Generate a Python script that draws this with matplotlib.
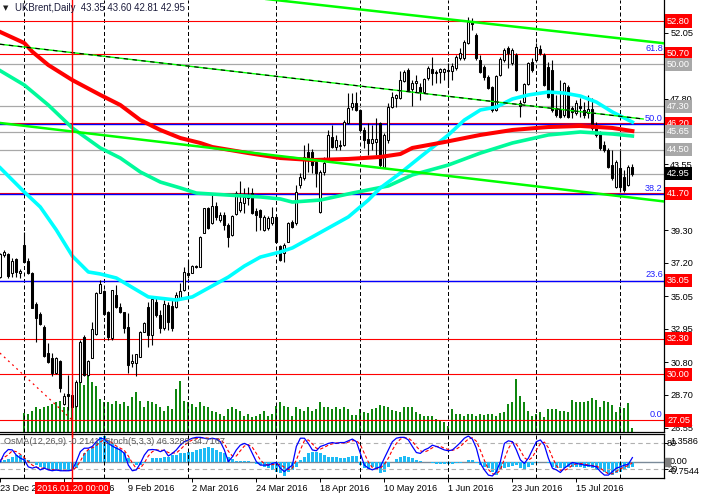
import matplotlib
matplotlib.use("Agg")
import matplotlib.pyplot as plt
from matplotlib.transforms import blended_transform_factory
import numpy as np

plt.rcParams['font.family'] = ['Liberation Sans', 'DejaVu Sans']

# daily bars, bar 0 = 23 Dec 2015, bar 18 = 20 Jan 2016, last bar = 158
opens = [36.30, 37.70, 37.75, 36.52, 37.43, 36.52, 38.35, 37.32, 36.56, 34.52,
         33.90, 33.04, 31.40, 31.08, 30.11, 30.86, 28.09, 28.74, 28.67, 27.96,
         29.53, 32.41, 29.96, 31.08, 32.61, 35.27, 35.38, 34.05, 32.33, 35.12,
         34.37, 34.01, 33.08, 30.74, 30.72, 31.14, 32.76, 34.37, 32.54, 34.69,
         33.83, 32.97, 34.48, 34.40, 34.37, 34.91, 35.45, 36.52, 36.56, 36.99,
         36.95, 39.14, 40.76, 39.75, 40.88, 39.96, 40.28, 39.64, 38.99, 40.35,
         40.61, 41.06, 41.38, 41.70, 40.54, 40.61, 39.32, 39.45, 39.77, 40.16,
         38.28, 37.83, 38.56, 39.83, 39.77, 42.22, 42.65, 44.37, 44.35, 43.72,
         40.50, 43.06, 43.83, 45.32, 44.69, 44.80, 44.80, 46.20, 47.27, 47.53,
         47.06, 45.77, 45.19, 44.93, 45.01, 46.20, 43.40, 45.12, 47.25, 47.83,
         47.83, 48.95, 49.64, 48.41, 48.78, 48.56, 48.24, 49.12, 49.70, 49.45,
         49.51, 49.53, 49.64, 49.58, 49.77, 50.41, 50.41, 51.36, 52.74, 51.90,
         50.28, 49.83, 49.19, 48.54, 47.06, 49.32, 50.28, 51.06, 50.09, 50.61,
         47.51, 47.59, 48.74, 50.15, 50.28, 50.99, 50.61, 49.83, 49.64, 47.19,
         47.12, 46.74, 48.56, 47.19, 46.86, 47.32, 47.06, 46.86, 47.12, 46.09,
         45.57, 44.80, 44.48, 43.51, 42.11, 43.32, 42.74, 42.22, 43.35]
highs = [37.83, 38.03, 37.83, 37.49, 37.53, 36.78, 39.17, 37.53, 36.63, 34.69,
         34.01, 33.19, 32.01, 31.36, 31.14, 30.93, 28.78, 29.96, 28.99, 29.64,
         32.22, 32.54, 30.93, 33.40, 35.34, 36.09, 35.43, 34.09, 35.45, 35.77,
         34.59, 34.05, 33.98, 31.32, 31.32, 32.80, 33.40, 34.69, 34.91, 35.01,
         34.16, 34.80, 34.69, 34.80, 35.34, 35.92, 36.95, 37.38, 37.06, 37.06,
         38.93, 40.76, 40.82, 41.57, 41.14, 40.50, 40.50, 39.75, 40.28, 41.83,
         42.48, 42.03, 42.09, 42.03, 40.74, 40.67, 40.28, 40.22, 40.80, 40.28,
         38.35, 38.50, 39.83, 39.96, 42.22, 42.97, 44.80, 44.91, 44.54, 43.83,
         43.19, 44.03, 45.77, 46.09, 45.45, 45.12, 46.41, 48.14, 48.16, 48.24,
         47.12, 45.98, 46.20, 46.09, 46.52, 46.30, 45.57, 47.51, 48.22, 48.09,
         49.57, 49.64, 49.77, 48.99, 49.32, 48.78, 49.12, 49.90, 50.50, 49.64,
         49.77, 49.77, 50.09, 50.09, 50.61, 51.06, 51.57, 53.06, 53.00, 52.03,
         50.61, 49.96, 49.32, 48.61, 49.32, 50.48, 51.06, 51.19, 51.06, 50.74,
         47.70, 48.80, 50.15, 50.41, 51.38, 51.25, 50.74, 50.15, 50.28, 48.03,
         48.99, 48.87, 48.67, 47.32, 47.70, 47.83, 47.57, 48.03, 47.83, 46.28,
         45.70, 45.06, 44.61, 44.48, 43.83, 44.48, 43.19, 43.51, 43.60]
lows = [36.22, 37.57, 36.22, 36.30, 36.30, 36.20, 37.25, 36.48, 34.26, 32.07,
        33.19, 31.14, 30.72, 29.92, 30.01, 28.88, 28.03, 27.70, 27.10, 27.92,
        29.53, 29.92, 29.92, 31.04, 32.54, 35.23, 33.83, 32.22, 32.22, 34.26,
        33.94, 32.69, 30.07, 30.50, 29.90, 31.14, 32.76, 31.79, 31.90, 33.72,
        32.65, 32.87, 32.87, 32.80, 34.26, 34.80, 35.40, 36.20, 36.52, 36.85,
        36.91, 39.10, 39.36, 39.70, 39.96, 39.85, 39.32, 38.24, 38.93, 40.28,
        40.48, 40.41, 40.93, 40.35, 39.25, 39.32, 39.25, 39.32, 39.64, 38.50,
        37.34, 37.27, 38.54, 39.45, 39.64, 42.01, 42.54, 43.08, 42.99, 42.11,
        40.43, 42.87, 43.70, 44.61, 44.48, 44.48, 44.74, 46.15, 47.06, 47.01,
        45.66, 44.59, 44.16, 44.48, 44.16, 43.40, 43.32, 44.93, 47.19, 47.25,
        47.77, 48.87, 48.28, 47.32, 48.22, 47.70, 48.16, 48.99, 48.67, 48.80,
        48.80, 48.99, 48.56, 48.99, 49.64, 50.28, 50.28, 51.32, 52.22, 50.28,
        49.45, 48.99, 48.41, 46.93, 47.00, 49.25, 50.15, 49.77, 49.96, 48.28,
        46.61, 47.51, 48.67, 49.51, 50.15, 50.61, 48.61, 47.83, 46.93, 46.61,
        46.54, 46.61, 46.54, 46.54, 46.74, 46.61, 46.54, 46.54, 45.77, 45.32,
        44.48, 44.35, 43.32, 42.54, 42.03, 41.77, 41.77, 42.16, 42.81]
closes = [37.75, 37.92, 36.35, 37.32, 36.63, 36.67, 37.27, 36.52, 34.30, 33.66,
          33.23, 31.21, 30.78, 30.11, 31.08, 29.14, 28.63, 28.61, 27.90, 29.53,
          32.11, 29.96, 30.86, 32.91, 35.27, 35.81, 33.90, 32.39, 35.43, 34.37,
          34.05, 33.01, 30.61, 30.86, 31.32, 32.76, 33.30, 32.54, 34.85, 33.83,
          32.97, 34.52, 33.35, 32.97, 35.12, 35.38, 36.63, 36.41, 36.99, 36.91,
          38.88, 40.72, 39.43, 40.88, 40.17, 40.28, 39.64, 38.88, 40.22, 41.70,
          41.12, 41.45, 41.57, 40.41, 40.28, 40.16, 40.16, 40.09, 40.16, 38.56,
          37.38, 38.35, 39.75, 39.51, 41.79, 42.76, 44.05, 43.83, 43.51, 42.97,
          43.08, 43.64, 45.45, 44.69, 45.12, 44.74, 46.30, 47.17, 47.49, 47.06,
          45.77, 45.12, 44.91, 45.19, 45.19, 43.51, 45.45, 47.25, 47.90, 48.03,
          48.99, 49.53, 48.35, 48.80, 48.95, 48.24, 49.04, 49.79, 49.43, 49.51,
          49.68, 49.68, 49.59, 49.90, 50.48, 50.74, 51.46, 52.76, 52.61, 50.41,
          49.53, 49.19, 48.48, 47.06, 49.25, 50.35, 50.93, 50.74, 50.93, 48.35,
          47.32, 48.74, 50.07, 49.64, 51.14, 50.74, 48.67, 47.90, 47.06, 46.74,
          46.63, 48.78, 46.63, 46.95, 47.51, 47.19, 46.74, 47.12, 45.90, 45.45,
          44.61, 44.48, 43.40, 42.67, 43.72, 42.11, 41.90, 43.38, 42.95]

# tick volume, thousands
volumes = [0, 0, 0, 0, 0, 0,
           19.5, 18.5, 21.5, 25, 23.5, 25, 26.5, 28.5, 30.5, 31.5,
           25, 25.5, 26.5, 35, 53.5, 47.5, 56.5, 50, 46.5, 33.5,
           30, 30, 28.5, 31.5, 28.5, 30, 26.5, 35, 40, 31.5,
           25, 31.5, 30, 28.5, 25, 21.5, 26.5, 23.5, 43.5, 51.5,
           31.5, 30, 28.5, 25, 30, 26.5, 25, 21.5, 20, 18.5,
           16.5, 23.5, 25, 23.5, 21.5, 16.5, 18.5, 15, 16.5, 18.5,
           21.5, 16.5, 18.5, 26.5, 30, 26.5, 25, 16.5, 25, 23.5,
           21.5, 25, 21.5, 23.5, 30, 25, 25, 23.5, 25, 23.5,
           25, 23.5, 17.5, 17.5, 23.5, 20, 19, 23.5, 24.5, 27.5,
           26.5, 25, 22.5, 21.5, 20, 25.5, 25.5, 25, 20, 18.5,
           16.5, 16.5, 16.5, 13.5, 11.5, 10, 6.5, 23.5, 18.5, 18.5,
           16.5, 18.5, 18.5, 16.5, 18.5, 17.5, 18.5, 18.5, 16.5, 19,
           20, 28.5, 30, 53.5, 36.5, 30, 21.5, 16.5, 18.5, 20,
           15, 23.5, 23.5, 23.5, 21.5, 21.5, 20, 32.5, 30, 30,
           30, 31, 34, 32.5, 25, 31.5, 30, 27, 20.5, 25,
           24.5, 29, 4]

osma = [0.05, 0.10, 0.14, 0.27, 0.35, 0.35, 0.19, 0.11, 0.01, -0.13,
        -0.21, -0.29, -0.37, -0.40, -0.40, -0.42, -0.42, -0.40, -0.37, -0.29,
        0.03, 0.43, 0.59, 0.75, 0.99, 1.23, 1.27, 1.07, 0.91, 0.75,
        0.59, 0.51, 0.19, 0.00, -0.13, -0.13, -0.05, 0.01, 0.19, 0.22,
        0.19, 0.27, 0.27, 0.35, 0.35, 0.43, 0.43, 0.51, 0.51, 0.59,
        0.63, 0.67, 0.75, 0.67, 0.59, 0.51, 0.43, 0.27, 0.14, 0.06,
        0.06, 0.06, 0.06, 0.03, -0.08, -0.13, -0.21, -0.29, -0.37, -0.45,
        -0.53, -0.66, -0.45, -0.37, -0.21, 0.11, 0.27, 0.43, 0.51, 0.51,
        0.43, 0.35, 0.27, 0.24, 0.24, 0.19, 0.19, 0.27, 0.30, 0.32,
        -0.13, -0.29, -0.34, -0.21, -0.37, -0.53, -0.45, -0.21, 0.03, 0.14,
        0.27, 0.30, 0.27, 0.19, 0.11, 0.06, 0.03, -0.01, -0.05, -0.08,
        -0.08, -0.10, -0.08, -0.08, -0.05, -0.02, 0.03, 0.11, 0.11, -0.05,
        -0.13, -0.21, -0.29, -0.45, -0.61, -0.37, -0.29, -0.21, -0.18, -0.13,
        -0.29, -0.37, -0.21, -0.13, -0.05, 0.00, 0.03, -0.02, -0.21, -0.29,
        -0.29, -0.29, -0.21, -0.21, -0.21, -0.24, -0.29, -0.21, -0.29, -0.37,
        -0.34, -0.45, -0.56, -0.61, -0.53, -0.45, -0.37, -0.29, -0.2141]

stoch_main = [37, 56, 65, 64, 52, 45, 41, 25, 22, 25, 18, 22, 18, 16, 18, 16, 16, 16, 18, 37,
              60, 68, 68, 72, 83, 91, 89, 79, 73, 68, 64, 56, 29, 16, 18, 33, 52, 64, 65, 64,
              60, 64, 50, 56, 64, 75, 83, 87, 91, 93, 93, 91, 89, 91, 89, 83, 64, 37, 48, 64,
              75, 79, 75, 56, 37, 29, 29, 29, 33, 35, 22, 14, 22, 29, 72, 91, 91, 79, 64, 62,
              72, 75, 79, 81, 79, 81, 81, 85, 89, 83, 56, 29, 22, 18, 22, 25, 45, 64, 83, 91,
              93, 93, 87, 72, 58, 56, 64, 68, 75, 72, 68, 64, 62, 64, 72, 81, 91, 96, 89, 68,
              33, 18, 6, 4, 14, 37, 79, 85, 83, 64, 41, 33, 45, 64, 83, 87, 75, 45, 22, 18,
              12, 22, 29, 35, 33, 31, 29, 28, 27, 25, 14, 6, 6, 14, 22, 25, 29, 31, 46.33]
stoch_signal = [40, 47, 53, 62, 60, 54, 46, 37, 29, 24, 22, 22, 19, 19, 17, 17, 17, 16, 17, 24,
                38, 55, 65, 69, 74, 82, 88, 86, 80, 73, 68, 63, 50, 34, 21, 22, 34, 50, 60, 64,
                63, 63, 58, 57, 57, 65, 74, 82, 87, 90, 92, 92, 91, 90, 90, 88, 79, 61, 50, 50,
                62, 73, 76, 70, 56, 41, 32, 29, 30, 32, 30, 24, 19, 22, 41, 64, 85, 87, 78, 68,
                66, 70, 75, 78, 80, 80, 80, 82, 85, 86, 76, 56, 36, 23, 21, 22, 31, 45, 64, 79,
                89, 92, 91, 84, 72, 62, 59, 63, 69, 72, 72, 68, 65, 63, 66, 72, 81, 89, 92, 84,
                63, 40, 19, 9, 8, 18, 43, 67, 82, 77, 63, 46, 40, 47, 64, 78, 82, 69, 47, 28,
                17, 17, 21, 29, 32, 33, 31, 29, 28, 27, 22, 15, 9, 9, 14, 20, 25, 28, 34.72]

# moving averages at selected bars
ma_red_bar = [0, 6, 8, 12, 18, 25, 30, 35, 40, 45, 50, 53, 62, 70, 78, 87, 95, 100, 103,
              111, 120, 128, 137, 145, 153, 158]
ma_red = [52.09, 51.38, 50.82, 49.96, 48.99, 48.03, 47.38, 46.41, 45.77, 45.25, 44.93, 44.67,
          44.28, 43.96, 43.83, 43.90, 44.03, 44.22, 44.61, 44.99, 45.45, 45.77, 45.96, 46.03,
          45.90, 45.70]
ma_green_bar = [0, 6, 12, 18, 25, 30, 35, 40, 45, 49, 57, 65, 70, 73, 80, 88, 97, 103, 112,
                120, 128, 137, 145, 153, 158]
ma_green = [49.59, 48.67, 47.38, 45.90, 44.61, 43.96, 43.06, 42.41, 42.03, 41.70, 41.57, 41.45,
            41.32, 41.12, 41.25, 41.70, 42.16, 42.87, 43.51, 44.28, 44.93, 45.45, 45.64, 45.51,
            45.38]
ma_cyan_bar = [0, 6, 10, 14, 18, 22, 25, 29, 37, 44, 48, 52, 57, 61, 65, 70, 73, 78, 87, 92,
               95, 100, 105, 112, 116, 120, 124, 128, 132, 137, 141, 145, 149, 153, 157, 158]
ma_cyan = [43.32, 41.77, 40.80, 39.32, 37.64, 36.61, 36.48, 36.22, 35.00, 34.80, 35.00, 35.57,
           36.28, 36.99, 37.57, 37.90, 38.16, 38.87, 40.16, 41.25, 42.03, 42.99, 44.03, 45.45,
           46.41, 47.06, 47.25, 47.77, 48.03, 48.22, 48.15, 47.96, 47.57, 46.93, 46.41, 46.28]

# drawn objects: trend lines as (bar, price) anchors
channel_top = [(95, 53.40), (158, 51.59)]
channel_low = [(0, 46.22), (158, 41.40)]
trend_dash = [(0, 51.30), (160.7, 46.48)]
fibo_diag = [(-0.1, 31.38), (18, 27.05)]

red_levels = [52.80, 50.70, 46.20, 41.70, 36.05, 32.30, 30.00, 27.05]
gray_levels = [50.00, 47.30, 45.65, 44.50]
fib_levels = [27.05, 36.05, 41.65, 46.17, 50.66]
fib_names = ['0.0', '23.6', '38.2', '50.0', '61.8']
price_ticks = [52.05, 49.90, 47.80, 45.65, 43.55, 41.45, 39.30, 37.20, 35.05, 32.95,
               30.80, 28.70, 26.55]
hidden_ticks = [49.90, 45.65]   # fully covered by the price labels
date_bars = [0, 16, 32, 48, 64, 80, 96, 112, 128, 144]
date_names = ['23 Dec 2015', '18 Jan 2016', '9 Feb 2016', '2 Mar 2016', '24 Mar 2016',
              '18 Apr 2016', '10 May 2016', '1 Jun 2016', '23 Jun 2016', '15 Jul 2016']
grid_bars = [6, 26, 47, 69, 90, 112, 134, 155]
cross_bar = 18

W, H = 701, 499
fig = plt.figure(figsize=(W / 100, H / 100), dpi=100)
fig.patch.set_facecolor('white')


def rect(x0, y0, x1, y1):
    return [x0 / W, 1 - y1 / H, (x1 - x0) / W, (y1 - y0) / H]


XL = (-0.075, 165.9)
FS = 6.6

axv = fig.add_axes(rect(0, 0, 664, 432))
ax = fig.add_axes(rect(0, 0, 664, 432))
ax2o = fig.add_axes(rect(0, 434, 664, 478))
ax2 = fig.add_axes(rect(0, 434, 664, 478))
for a in (axv, ax, ax2o, ax2):
    a.set_xlim(*XL)
ax.patch.set_visible(False)
ax2.patch.set_visible(False)

bars = np.arange(len(closes))

# volumes
axv.set_ylim(0, 432)
axv.vlines(bars, 0, volumes, color='#008000', lw=1.35)
axv.axis('off')

# main chart
ax.set_ylim(26.285, 54.155)
for b in grid_bars:
    ax.axvline(b, color='black', lw=0.72, ls=(0, (4, 2.5)), zorder=1)
for p in red_levels:
    ax.axhline(p, color='red', lw=0.8, zorder=1.5)
for p in gray_levels + [closes[-1]]:
    ax.axhline(p, color='#A8A8A8', lw=0.9, zorder=1.5)
for p in fib_levels[1:4]:
    ax.axhline(p, color='#0000FF', lw=1.0, zorder=1.6)
for p, name in zip(fib_levels, fib_names):
    ax.text(165.6, p + 0.08, name, ha='right', va='bottom', fontsize=FS, color='#2020FF', zorder=6)

o, h, l, c = map(np.array, (opens, highs, lows, closes))
up = c >= o
ax.vlines(bars, l, h, color='black', lw=0.8, zorder=3)
lo = np.minimum(o, c)
bh = np.maximum(np.abs(c - o), 0.04)
ax.bar(bars[up], bh[up], bottom=lo[up], width=0.55, color='white', edgecolor='black', lw=0.75, zorder=3.2)
ax.bar(bars[~up], bh[~up], bottom=lo[~up], width=0.55, color='black', edgecolor='black', lw=0.75, zorder=3.2)

ax.plot(ma_green_bar, ma_green, color='#00FA9A', lw=2.6, zorder=4)
ax.plot(ma_cyan_bar, ma_cyan, color='#00FFFF', lw=2.6, zorder=4)
ax.plot(ma_red_bar, ma_red, color='#FF0000', lw=2.9, zorder=4)


def ray(pts, x_from, x_to):
    (x0, y0), (x1, y1) = pts
    k = (y1 - y0) / (x1 - x0)
    return [x_from, x_to], [y0 + k * (x_from - x0), y0 + k * (x_to - x0)]


xs, ys = ray(channel_top, 60, XL[1])
ax.plot(xs, ys, color='#00FF00', lw=1.8, zorder=5)
xs, ys = ray(channel_low, XL[0], XL[1])
ax.plot(xs, ys, color='#00FF00', lw=1.8, zorder=5)
xs, ys = ray(trend_dash, XL[0], trend_dash[1][0])
ax.plot(xs, ys, color='#00FF00', lw=1.0, zorder=5)
ax.plot(xs, ys, color='black', lw=0.8, ls=(0, (4, 4)), zorder=5.1)
ax.plot(*zip(*fibo_diag), color='red', lw=0.9, ls=(0, (1.5, 3)), zorder=5)

ax.axvline(cross_bar, ymin=-0.01, ymax=1, color='red', lw=1.0, zorder=15, clip_on=False)

ax.set_xticks([])
ax.yaxis.tick_right()
ax.set_yticks(price_ticks)
ax.set_yticklabels(['' if p in hidden_ticks else f'{p:.2f}' for p in price_ticks])
ax.tick_params(axis='y', direction='out', length=3, width=0.7, labelsize=FS, pad=1.5)
for s in ('top', 'left'):
    ax.spines[s].set_visible(False)
for s in ('right', 'bottom'):
    ax.spines[s].set_linewidth(0.9)

tr = blended_transform_factory(ax.transAxes, ax.transData)


def price_box(p, fc):
    ax.text(1.0045, p, f'{p:.2f}', transform=tr, ha='left', va='center', fontsize=FS,
            color='white', zorder=20, clip_on=False,
            bbox=dict(boxstyle='square,pad=0.22', fc=fc, ec='none'))


for p in red_levels:
    price_box(p, '#FF0000')
for p in gray_levels:
    price_box(p, '#A8A8A8')
price_box(closes[-1], 'black')

fig.text(3 / W, 1 - 8 / H, '\u25bc', fontsize=5, color='#202020', va='center',
         family=['DejaVu Sans'])
fig.text(15 / W, 1 - 8 / H,
         f'UKBrent,Daily  {opens[-1]:.2f} {highs[-1]:.2f} {lows[-1]:.2f} {closes[-1]:.2f}',
         fontsize=6.9, color='#1c1c3c', va='center')

# indicator window: OsMA histogram + stochastic
ax2o.set_ylim(-0.7544, 1.3586)
ax2o.bar(bars, osma, width=0.65, color='#1EBBF5', zorder=2)
ax2o.axhline(0, color='#7A8A99', lw=1.0, zorder=1)
ax2o.axis('off')

ax2.set_ylim(-0.7, 100.7)
for lv in (80, 20):
    ax2.axhline(lv, color='#B0B0B0', lw=0.8, ls=(0, (4, 3)), zorder=1)
for b in grid_bars:
    ax2.axvline(b, color='black', lw=0.72, ls=(0, (4, 2.5)), zorder=1)
ax2.plot(bars, stoch_signal, color='red', lw=0.8, ls=(0, (3, 2)), zorder=3)
ax2.plot(bars, stoch_main, color='#0000FF', lw=0.9, zorder=4)
ax2.axvline(cross_bar, ymin=-0.13, ymax=1.05, color='red', lw=1.0, zorder=15, clip_on=False)

ax2.yaxis.tick_right()
ax2.set_yticks([80, 20])
ax2.set_yticklabels([])
ax2.tick_params(axis='y', direction='out', length=3, width=0.7)
ax2.set_xticks(date_bars)
ax2.set_xticklabels(date_names, ha='left')
ax2.tick_params(axis='x', direction='out', length=3, width=0.7, labelsize=FS, pad=1.5)
ax2.spines['left'].set_visible(False)
for s in ('top', 'right', 'bottom'):
    ax2.spines[s].set_linewidth(0.9)

ax2.text(cross_bar, -0.23, '2016.01.20 00:00', transform=blended_transform_factory(ax2.transData, ax2.transAxes),
         ha='center', va='center', fontsize=FS, color='white', zorder=30, clip_on=False,
         bbox=dict(boxstyle='square,pad=0.2', fc='#FF0000', ec='none'))

fig.text(4 / W, 1 - 442 / H, 'OsMA(12,26,9) -0.2141  Stoch(5,3,3) 46.3289 34.7167',
         fontsize=FS, color='#585858', va='center')
fig.text(667 / W, 1 - 444 / H, '80', fontsize=FS, color='black', va='center')
fig.text(670 / W, 1 - 441 / H, '1.3586', fontsize=FS, color='black', va='center')
fig.text(670 / W, 1 - 462 / H, '0.00', fontsize=FS, color='black', va='center')
fig.patches.append(plt.Rectangle((665 / W, 1 - 466 / H), 5 / W, 8 / H, transform=fig.transFigure,
                                 color='#808080', zorder=5))
fig.text(667 / W, 1 - 470 / H, '20', fontsize=FS, color='black', va='center')
fig.text(669 / W, 1 - 472 / H, '-0.7544', fontsize=FS, color='black', va='center')

fig.savefig('out.png', dpi=100, facecolor='white')
